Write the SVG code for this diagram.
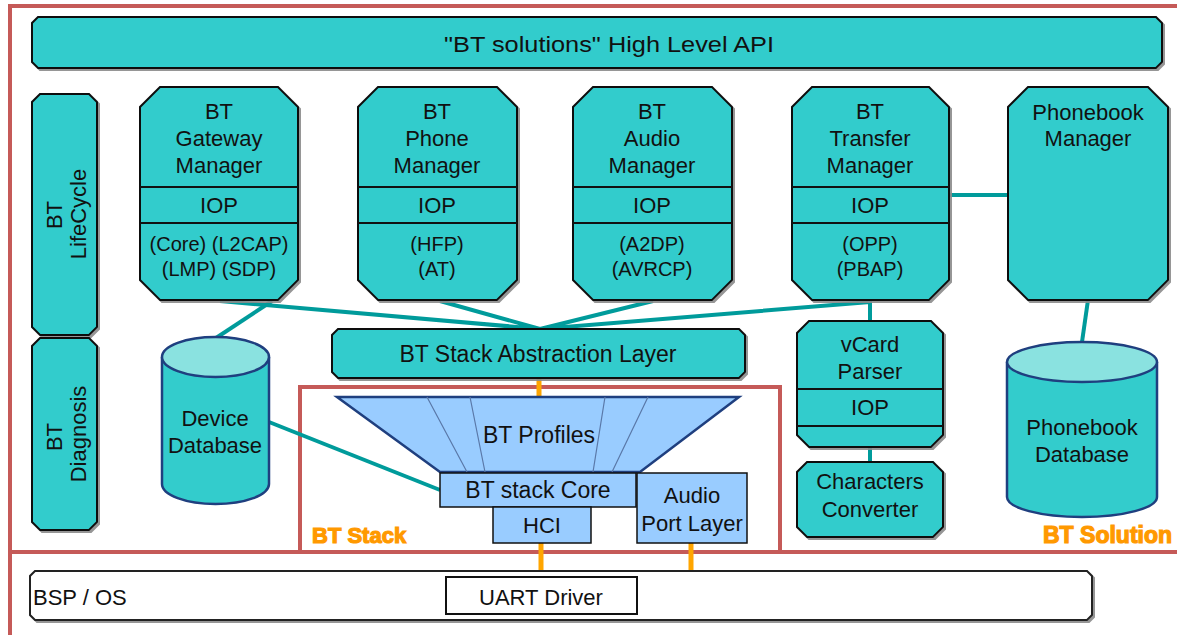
<svg xmlns="http://www.w3.org/2000/svg" width="1177" height="635" viewBox="0 0 1177 635">
<defs>
<filter id="sh" x="-5%" y="-5%" width="110%" height="110%">
<feDropShadow dx="2" dy="2" stdDeviation="0.6" flood-color="#8a8a8a" flood-opacity="0.9"/>
</filter>
</defs>
<style>
.box{fill:#33CCCC;stroke:#111;stroke-width:2;filter:url(#sh)}
.sep{stroke:#111;stroke-width:2}
.t{font-family:"Liberation Sans",Arial,sans-serif;font-size:22px;fill:#111;text-anchor:middle}
.ts{font-size:20px}
.tl{font-size:23px}
.red{stroke:#C55A58;stroke-width:4;fill:none}
.con{stroke:#009B9B;stroke-width:4;fill:none}
.org{stroke:#FFA500;stroke-width:5;fill:none}
.blue{fill:#99CCFF;stroke:#111;stroke-width:1.5}
.cylb{fill:#33CCCC;stroke:#1F3F7F;stroke-width:2.5}
.cylt{fill:#8AE2E0;stroke:#1F3F7F;stroke-width:2.5}
.lbl{font-family:"Liberation Sans",Arial,sans-serif;font-size:22px;font-weight:bold;fill:#FF9900;stroke:#FF9900;stroke-width:1.2}
.white{fill:#fff;stroke:#222;stroke-width:2;filter:url(#sh)}
</style>

<g id="frames">
<path class="red" d="M10,635 V6 H1177 M10,552 H1177"/>
<path class="red" d="M300,552 V387 H780 V552"/>
</g>

<g id="connectors">
<path class="con" d="M220,301 L540,329 M440,301 L540,329 M653,301 L540,329 M540,329 L870,302 M870,300 V321"/>
<path class="con" d="M272,301 L216,338"/>
<path class="con" d="M949,195 H1008"/>
<path class="con" d="M1088,300 L1082,342"/>
<path class="con" d="M870,447 V462"/>
<path class="con" d="M269,422 L440,490"/>
<path class="org" d="M539,378 V396 M541,543 V577 M691,543 V577"/>
</g>

<g id="api">
<path class="box" d="M38,17 H1156 L1162,23 V62 L1156,68 H38 L32,62 V23 Z"/>
<text class="t" x="609" y="52" textLength="330" lengthAdjust="spacingAndGlyphs">"BT solutions" High Level API</text>
</g>

<g id="lifecycle">
<path class="box" d="M40,94 H89 L97,102 V327 L89,335 H40 L32,327 V102 Z"/>
<text class="t" transform="translate(62,215) rotate(-90)">BT</text>
<text class="t" transform="translate(86,214) rotate(-90)">LifeCycle</text>
</g>

<g id="diagnosis">
<path class="box" d="M40,338 H89 L97,346 V522 L89,530 H40 L32,522 V346 Z"/>
<text class="t" transform="translate(62,437) rotate(-90)">BT</text>
<text class="t" transform="translate(86,434) rotate(-90)">Diagnosis</text>
</g>

<g id="gateway">
<path class="box" d="M160,87 H278 L298,107 V280 L278,300 H160 L140,280 V107 Z"/>
<path class="sep" d="M140,187 H298 M140,223 H298"/>
<text class="t" x="219" y="119">BT</text>
<text class="t" x="219" y="146">Gateway</text>
<text class="t" x="219" y="173">Manager</text>
<text class="t" x="219" y="213">IOP</text>
<text class="t ts" x="219" y="251">(Core) (L2CAP)</text>
<text class="t ts" x="219" y="276">(LMP) (SDP)</text>
</g>

<g id="phone">
<path class="box" d="M378,87 H497 L517,107 V280 L497,300 H378 L358,280 V107 Z"/>
<path class="sep" d="M358,187 H517 M358,223 H517"/>
<text class="t" x="437" y="119">BT</text>
<text class="t" x="437" y="146">Phone</text>
<text class="t" x="437" y="173">Manager</text>
<text class="t" x="437" y="213">IOP</text>
<text class="t ts" x="437" y="251">(HFP)</text>
<text class="t ts" x="437" y="276">(AT)</text>
</g>

<g id="audio">
<path class="box" d="M593,87 H712 L732,107 V280 L712,300 H593 L573,280 V107 Z"/>
<path class="sep" d="M573,187 H732 M573,223 H732"/>
<text class="t" x="652" y="119">BT</text>
<text class="t" x="652" y="146">Audio</text>
<text class="t" x="652" y="173">Manager</text>
<text class="t" x="652" y="213">IOP</text>
<text class="t ts" x="652" y="251">(A2DP)</text>
<text class="t ts" x="652" y="276">(AVRCP)</text>
</g>

<g id="transfer">
<path class="box" d="M812,87 H929 L949,107 V280 L929,300 H812 L792,280 V107 Z"/>
<path class="sep" d="M792,187 H949 M792,223 H949"/>
<text class="t" x="870" y="119">BT</text>
<text class="t" x="870" y="146">Transfer</text>
<text class="t" x="870" y="173">Manager</text>
<text class="t" x="870" y="213">IOP</text>
<text class="t ts" x="870" y="251">(OPP)</text>
<text class="t ts" x="870" y="276">(PBAP)</text>
</g>

<g id="phonebook-manager">
<path class="box" d="M1028,87 H1148 L1168,107 V280 L1148,300 H1028 L1008,280 V107 Z"/>
<text class="t" x="1088" y="120">Phonebook</text>
<text class="t" x="1088" y="146">Manager</text>
</g>

<g id="abstraction">
<path class="box" d="M338,329 H739 L745,335 V372 L739,378 H338 L332,372 V335 Z"/>
<text class="t tl" x="538" y="362">BT Stack Abstraction Layer</text>
</g>

<g id="device-db">
<path class="cylb" d="M162,357 V484 A53.5,20 0 0 0 269,484 V357"/>
<ellipse class="cylt" cx="215.5" cy="357" rx="53.5" ry="20"/>
<text class="t" x="215" y="426">Device</text>
<text class="t" x="215" y="453">Database</text>
</g>

<g id="profiles">
<path d="M337,397 H739 L640,472 H440 Z" fill="#99CCFF" stroke="#1F3F7F" stroke-width="2.5"/>
<path d="M427,397 L467,472 M470,397 L485,472 M605,397 L593,472 M648,397 L612,472" stroke="#5A78A8" stroke-width="1.2"/>
<text class="t tl" x="539" y="443">BT Profiles</text>
</g>

<g id="core">
<rect class="blue" x="440" y="473" width="196" height="34"/>
<text class="t tl" x="538" y="498">BT stack Core</text>
</g>

<g id="hci">
<rect class="blue" x="493" y="507" width="98" height="36"/>
<text class="t" x="542" y="533">HCI</text>
</g>

<g id="audio-port">
<rect class="blue" x="637" y="473" width="110" height="70"/>
<text class="t" x="692" y="503">Audio</text>
<text class="t" x="692" y="531">Port Layer</text>
</g>

<g id="vcard">
<path class="box" d="M809,321 H931 L943,333 V435 L931,447 H809 L797,435 V333 Z"/>
<path class="sep" d="M797,389 H943 M797,426 H943"/>
<text class="t" x="870" y="352">vCard</text>
<text class="t" x="870" y="379">Parser</text>
<text class="t" x="870" y="415">IOP</text>
</g>

<g id="characters">
<path class="box" d="M807,462 H933 L943,472 V527 L933,537 H807 L797,527 V472 Z"/>
<text class="t" x="870" y="489">Characters</text>
<text class="t" x="870" y="517">Converter</text>
</g>

<g id="phonebook-db">
<path class="cylb" d="M1007,362 V497 A75,20 0 0 0 1157,497 V362"/>
<ellipse class="cylt" cx="1082" cy="362" rx="75" ry="20"/>
<text class="t" x="1082" y="435">Phonebook</text>
<text class="t" x="1082" y="462">Database</text>
</g>

<g id="labels">
<text class="lbl" x="312" y="543">BT Stack</text>
<text class="lbl" x="1043" y="543" style="font-size:23px">BT Solution</text>
</g>

<g id="bsp">
<path class="white" d="M35,571 H1087 L1092,576 V615 L1087,620 H35 L30,615 V576 Z"/>
<text class="t" x="33" y="605" style="text-anchor:start">BSP / OS</text>
</g>

<g id="uart">
<rect x="446" y="577" width="191" height="37" fill="#fff" stroke="#111" stroke-width="2"/>
<text class="t" x="541" y="605">UART Driver</text>
</g>
</svg>
